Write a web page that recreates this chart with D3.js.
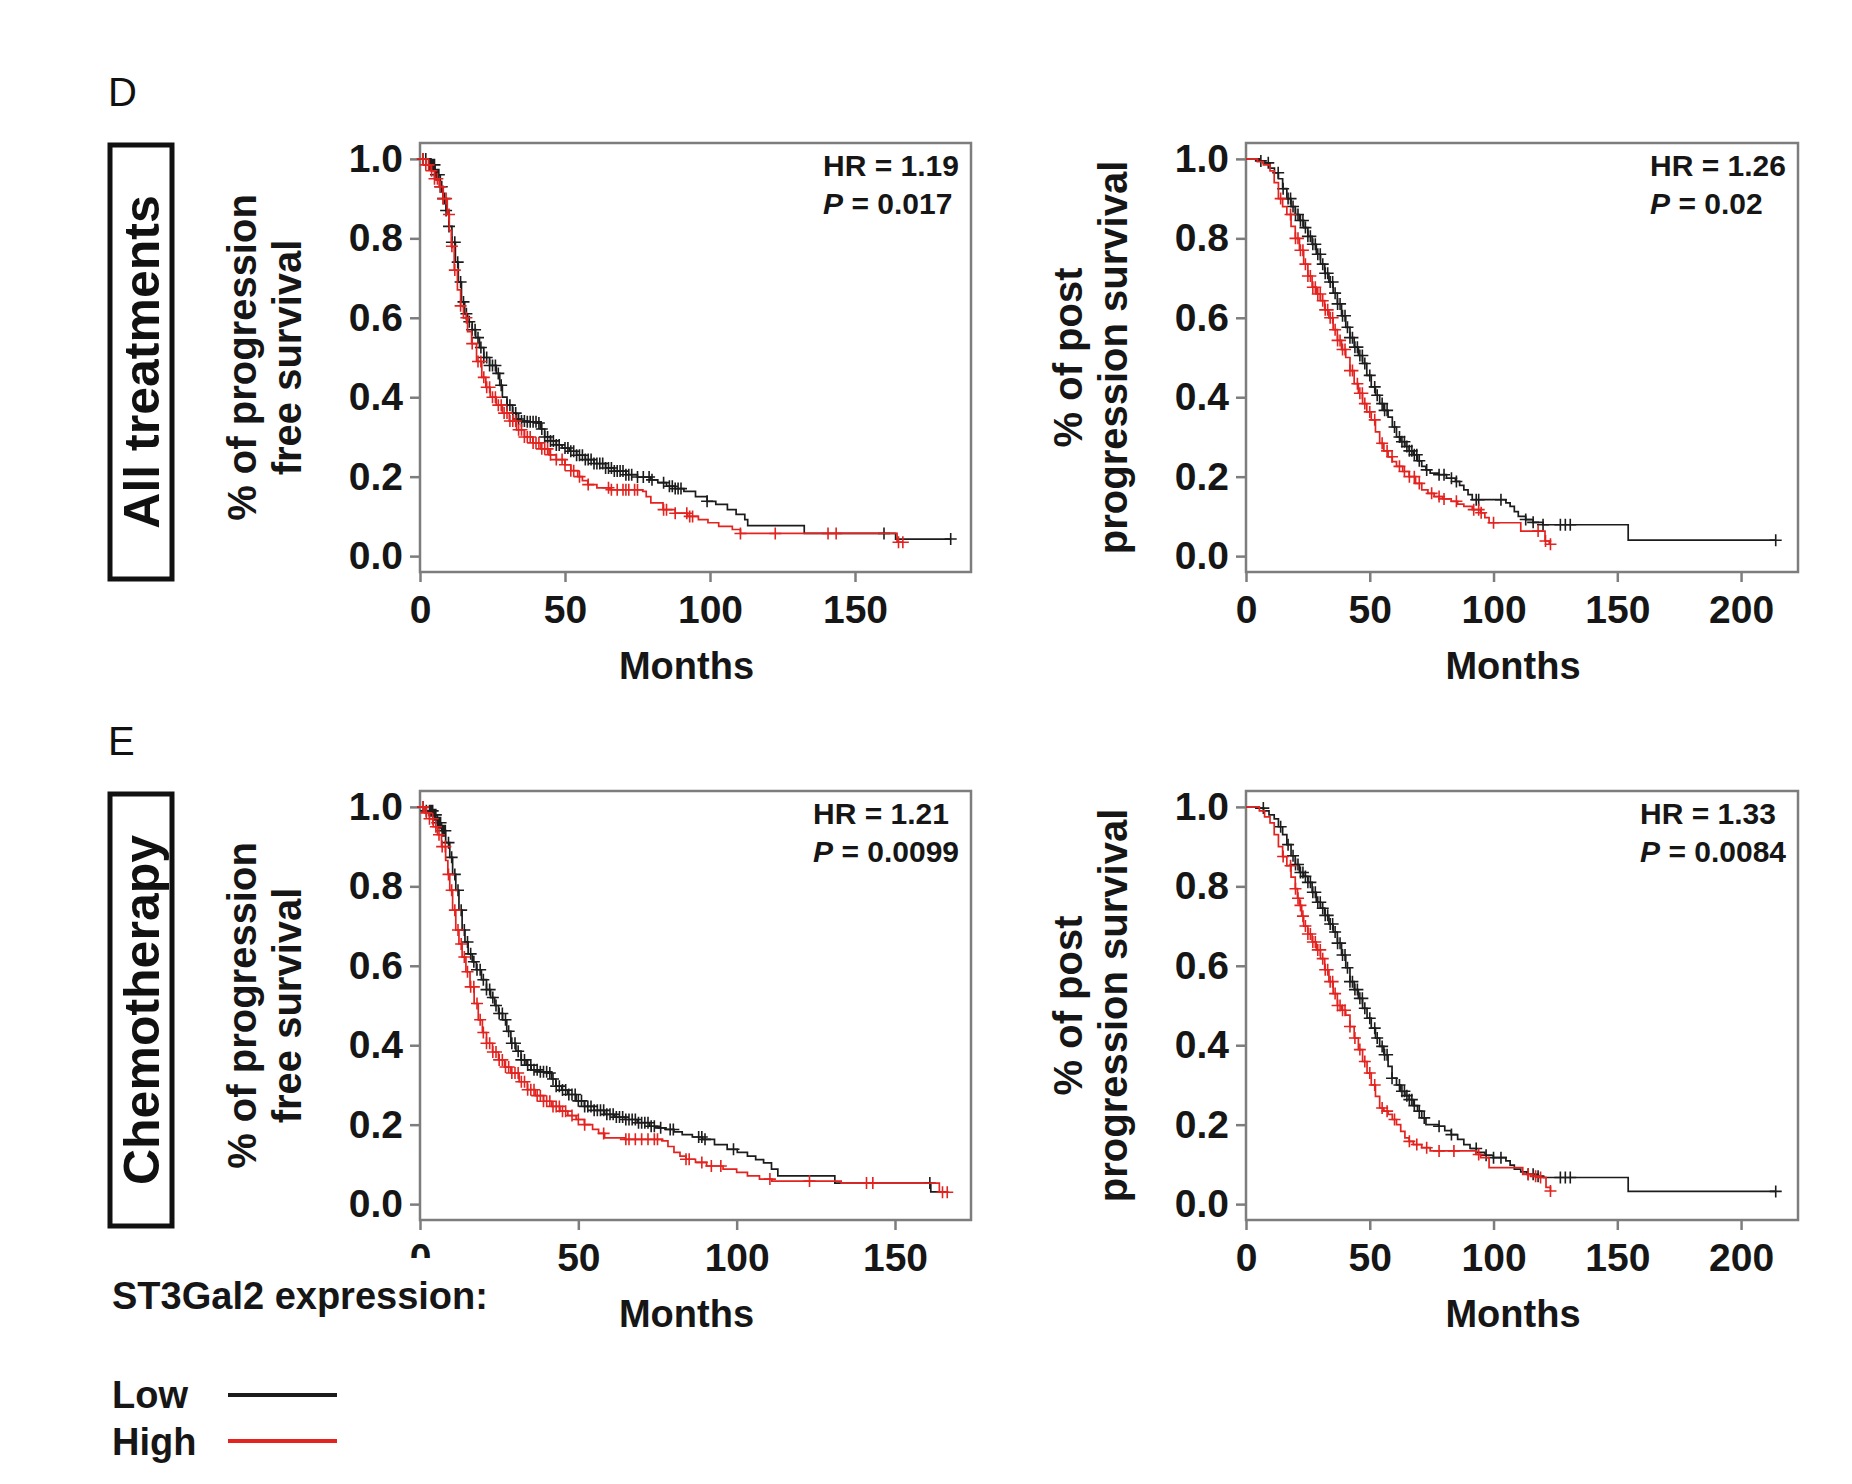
<!DOCTYPE html>
<html>
<head>
<meta charset="utf-8">
<script src="https://cdn.jsdelivr.net/npm/d3@7"></script>
<style>
  body { margin: 0; background: #fff; }
  text { font-family: "Liberation Sans", Arial, sans-serif; }
</style>
</head>
<body>
<svg class="figure" width="1852" height="1484"></svg>
<script>
// ---- data (months, survival fraction) ----
const yTicks = [0, 0.2, 0.4, 0.6, 0.8, 1.0];
const xTicksPFS = [0, 50, 100, 150];
const xTicksPPS = [0, 50, 100, 150, 200];
const xMaxes = [190, 223, 174, 223];
const hrValues = ["1.19", "1.26", "1.21", "1.33"];
const pValues = ["0.017", "0.02", "0.0099", "0.0084"];
const rowLabels = ["All treatments", "Chemotherapy"];
const panelLetters = ["D", "E"];
const yTitlePFS = ["% of progression", "free survival"];
const yTitlePPS = ["% of post", "progression survival"];
const legendTitle = "ST3Gal2 expression:";
const groupNames = ["Low", "High"];

// D: progression free survival, all treatments
const pfsAllLow = [[0,1],[3,0.985],[5.2,0.96],[7,0.93],[8,0.9],[9,0.87],[10,0.83],[11,0.79],[12.2,0.74],[13.2,0.69],[14.3,0.64],[15.4,0.61],[16.4,0.59],[18,0.57],[19.2,0.55],[20.5,0.525],[22,0.5],[24,0.48],[26.3,0.46],[27.5,0.43],[28.4,0.4],[30,0.38],[31.9,0.36],[33.3,0.345],[34.7,0.34],[37,0.338],[40.3,0.335],[41.5,0.32],[43,0.3],[45,0.29],[47,0.28],[49,0.272],[51.5,0.264],[54,0.254],[57,0.243],[60,0.233],[64,0.222],[67,0.214],[71,0.205],[75,0.199],[79.6,0.192],[82,0.185],[85,0.176],[88,0.17],[91,0.163],[95,0.15],[99,0.138],[102,0.13],[106,0.117],[109,0.105],[112,0.092],[113,0.077],[132.5,0.057],[164,0.043],[183,0.043]];
const pfsAllHigh = [[0,1],[2,0.985],[3.8,0.97],[5,0.95],[6.6,0.93],[8,0.9],[9.4,0.86],[10.1,0.82],[10.8,0.78],[11.8,0.72],[12.9,0.67],[14,0.63],[15,0.6],[16.4,0.565],[17.8,0.535],[19.5,0.49],[21.3,0.45],[22.7,0.425],[24.2,0.4],[26.3,0.38],[28.4,0.36],[30.8,0.34],[33.3,0.318],[36,0.3],[38.9,0.285],[41.7,0.27],[44.5,0.255],[47,0.243],[50,0.23],[52,0.215],[54.4,0.2],[56,0.19],[57.9,0.18],[61,0.172],[65.6,0.167],[76.8,0.163],[78,0.15],[79.6,0.134],[83.8,0.117],[88,0.108],[92.3,0.1],[96,0.092],[99.3,0.084],[103,0.075],[107.7,0.067],[110.5,0.057],[164.5,0.035],[166.5,0.035]];
const pfsAllLowCensor = [1,2,3,3.5,4,4.5,5,5.5,6,6.5,7,7.5,8,8.5,9,10,11,12,13,14,15,16,17,18,19,20,21,22,23,24,25,26,27,28,30,31,32,33,34,35,36,37,38,39,40,41,42,43,44,45,46,47,48,50,51,52,53,54,55,56,57,58,59,60,61,62,63,64,65,66,67,68,69,70,71,72,73,75,77,79,80,84,86,87,88,89,90,99,160,183];
const pfsAllHighCensor = [1,2,3,4,5,6,7,8,9,10,11,12,14,16,18,20,21,22,23,24,25,26,27,28,29,30,31,32,33,34,35,36,37,38,39,40,41,42,43,44,45,47,49,50,52,53,55,58,65,66,68,70,71,72,74,75,84,85,88,92,93,94,110.5,122.5,140.7,143.5,165,166.5];

// D: post progression survival, all treatments
const ppsAllLow = [[0,1],[5.4,0.995],[7.5,0.99],[9.7,0.977],[11.5,0.965],[13.1,0.95],[14.8,0.925],[16.5,0.9],[18.2,0.88],[19.9,0.86],[21.6,0.845],[23.3,0.827],[25,0.805],[26.7,0.785],[28.4,0.76],[30.1,0.735],[31.8,0.712],[33.5,0.69],[35.2,0.662],[36.9,0.635],[38.6,0.605],[40.3,0.576],[42,0.55],[43.7,0.526],[45.4,0.505],[47.1,0.485],[48.8,0.455],[50.6,0.426],[52.3,0.405],[54,0.384],[55.7,0.367],[57.4,0.35],[59.1,0.325],[60.8,0.3],[62.5,0.288],[64.2,0.276],[65.9,0.265],[67.6,0.255],[69.3,0.24],[71,0.226],[72.7,0.217],[74.4,0.209],[77.8,0.205],[81,0.196],[84.6,0.188],[86.3,0.178],[88,0.167],[89.7,0.155],[91.4,0.142],[105,0.134],[106.7,0.125],[108.4,0.112],[110,0.1],[113,0.092],[116,0.085],[120,0.079],[154.4,0.04],[214,0.04]];
const ppsAllHigh = [[0,1],[4.6,0.993],[7,0.985],[9.7,0.97],[11.4,0.94],[13.1,0.9],[14.8,0.88],[16.5,0.86],[18.2,0.83],[19.9,0.8],[21.6,0.77],[23.3,0.735],[25,0.705],[26.7,0.677],[28.4,0.66],[30.1,0.643],[31.8,0.62],[33.5,0.6],[35.2,0.57],[36.9,0.543],[38.6,0.52],[40.3,0.5],[42,0.467],[43.7,0.434],[45.4,0.41],[47.1,0.384],[48.8,0.363],[50.6,0.343],[52.3,0.313],[54,0.284],[55.7,0.265],[57.4,0.25],[59.1,0.238],[60.8,0.226],[63.3,0.213],[65.9,0.2],[68.5,0.183],[71,0.167],[73.5,0.158],[76,0.15],[79.5,0.144],[82.9,0.138],[85.5,0.131],[88,0.125],[91.4,0.117],[94.8,0.109],[96.5,0.097],[98.2,0.084],[111,0.063],[120.8,0.038],[122.5,0.03],[123,0.03]];
const ppsAllLowCensor = [6,9,13,15,17,18,19,20,21,22,23,24,25,26,27,28,29,30,31,32,33,34,35,36,37,38,39,40,41,42,43,44,45,46,47,48,50,52,53,55,56,57,60,62,63,64,65,66,67,68,69,70,73,78,80,83,85,93,94,103,113,116,120,127,129,131,214];
const ppsAllHighCensor = [14,18,20,21,22,23,24,25,26,27,28,29,30,31,32,33,34,35,36,37,38,39,40,42,43,45,46,47,48,50,52,55,57,59,62,64,66,68,70,75,78,80,85,92,94,95,100,118,121,123];

// E: progression free survival, chemotherapy
const pfsChemoLow = [[0,1],[2,0.99],[4.2,0.98],[5.5,0.96],[6.8,0.94],[8.1,0.91],[9.4,0.873],[10.3,0.83],[11.3,0.79],[12.3,0.74],[13.3,0.69],[14.2,0.66],[15.2,0.63],[16.5,0.61],[17.8,0.59],[19.4,0.565],[21,0.54],[22.3,0.52],[23.6,0.5],[24.8,0.48],[26.1,0.464],[27.4,0.435],[28.7,0.405],[30.3,0.385],[31.9,0.363],[33.5,0.35],[35.1,0.338],[37.7,0.333],[40.3,0.33],[41.6,0.315],[42.9,0.297],[44.8,0.287],[46.7,0.276],[49.3,0.26],[51.9,0.246],[55,0.236],[58.3,0.226],[61.5,0.219],[64.8,0.213],[68.6,0.205],[72.5,0.196],[75,0.192],[77.6,0.188],[80.2,0.182],[82.8,0.175],[86,0.169],[89.2,0.163],[93,0.15],[97,0.138],[100.2,0.13],[103.4,0.121],[106,0.112],[108.5,0.104],[111,0.088],[113,0.071],[131,0.053],[161.3,0.031],[166.5,0.031]];
const pfsChemoHigh = [[0,1],[1.5,0.985],[3,0.97],[4.2,0.95],[5.5,0.93],[6.8,0.9],[8.1,0.865],[8.8,0.83],[9.4,0.79],[10.3,0.74],[11.3,0.69],[12.3,0.655],[13.3,0.622],[14.5,0.585],[15.8,0.547],[17.1,0.505],[18.4,0.464],[19.7,0.432],[21,0.405],[22.9,0.383],[24.8,0.363],[26.7,0.345],[28.7,0.33],[31.3,0.308],[33.9,0.288],[36.4,0.273],[39,0.259],[41.6,0.246],[44.2,0.234],[46.7,0.223],[49.3,0.213],[51.9,0.2],[54.5,0.188],[56.4,0.178],[58.3,0.167],[64.8,0.163],[76.4,0.159],[78.3,0.145],[80.2,0.13],[82.1,0.121],[84,0.113],[87,0.105],[90.5,0.096],[95.7,0.088],[100,0.08],[103.4,0.071],[107.2,0.063],[111.1,0.058],[133,0.053],[164,0.03],[167,0.03]];
const pfsChemoLowCensor = [1,2,3,3.5,4,4.5,5,5.5,6,6.5,7,7.5,8,9,10,11,12,13,14,15,16,17,18,19,20,21,22,23,24,25,26,27,28,29,30,31,32,33,34,35,36,37,38,39,40,41,42,43,44,45,46,47,48,49,50,51,52,53,54,55,56,57,58,59,60,61,62,63,64,65,66,67,68,69,70,71,72,73,74,76,79,80,88,89,90,99,161];
const pfsChemoHighCensor = [1,2,3,4,5,6,7,8,9,10,11,12,13,14,15,16,17,18,19,20,21,22,23,24,25,26,27,28,29,30,31,32,33,34,35,36,37,38,39,40,41,42,43,44,45,46,48,50,52,58,65,66,68,70,72,74,75,84,85,89,92,95,110.5,123,141,143,165,166.5];

// E: post progression survival, chemotherapy
const ppsChemoLow = [[0,1],[4,0.997],[7.1,0.99],[9.3,0.98],[11.4,0.97],[13.1,0.95],[14.8,0.93],[16.5,0.905],[18.2,0.877],[19.9,0.855],[21.6,0.835],[23.3,0.825],[25,0.81],[26.7,0.785],[28.4,0.76],[30.1,0.745],[31.8,0.727],[33.5,0.705],[35.2,0.685],[36.9,0.657],[38.6,0.627],[40.3,0.595],[42,0.56],[43.7,0.54],[45.4,0.518],[47.1,0.493],[48.9,0.468],[50.6,0.443],[52.3,0.418],[54,0.397],[55.7,0.376],[57.4,0.347],[59,0.317],[60.8,0.3],[62.5,0.284],[64.2,0.273],[65.9,0.263],[67.6,0.248],[69.3,0.234],[71,0.217],[72.7,0.2],[77.8,0.196],[80.3,0.185],[82.9,0.175],[85.5,0.163],[88,0.15],[90.5,0.14],[93.1,0.13],[96.5,0.123],[99.9,0.117],[105,0.109],[106.7,0.098],[108.4,0.088],[111,0.081],[113.5,0.075],[117,0.07],[120.3,0.067],[154.4,0.032],[214,0.032]];
const ppsChemoHigh = [[0,1],[5.4,0.99],[7.5,0.975],[9.7,0.96],[11.4,0.93],[13.1,0.9],[14.8,0.875],[16.5,0.852],[18.2,0.823],[19.9,0.794],[20.8,0.77],[21.6,0.752],[22.5,0.725],[23.3,0.7],[25,0.68],[26.7,0.66],[28.4,0.64],[30.1,0.618],[31.8,0.59],[33.5,0.56],[35.2,0.53],[36.9,0.5],[38.6,0.488],[40.3,0.476],[42,0.447],[43.7,0.418],[45.4,0.389],[47.1,0.359],[48.9,0.33],[50.6,0.3],[52.3,0.271],[54,0.242],[55.7,0.234],[57.4,0.226],[59.1,0.213],[60.8,0.2],[62.5,0.183],[64.2,0.167],[65.9,0.158],[67.6,0.15],[71,0.142],[74.4,0.134],[93,0.125],[94.8,0.117],[98.2,0.092],[111.8,0.075],[115,0.07],[118.6,0.067],[121.2,0.042],[123,0.033]];
const ppsChemoLowCensor = [7,14,17,19,20,21,22,23,24,25,26,27,28,29,30,31,32,33,34,35,36,37,38,39,40,41,42,43,44,45,46,47,48,50,52,53,55,56,57,59,62,63,64,65,66,67,68,70,72,78,83,93,97,100,103,114,116,118,127,129,131,214];
const ppsChemoHighCensor = [15,18,20,21,22,23,24,25,26,27,28,29,30,31,32,33,34,35,36,37,38,39,40,42,44,46,48,50,52,55,57,60,66,69,73,78,84,94,114,117,119,123];

// ---- layout ----
const svg = d3.select(".figure");
const lowColor = "#1c1c1c";
const highColor = "#e3231f";
const frameColor = "#7d7d7d";

const panels = [
    { left: 420, right: 971, top: 143, bottom: 572, xTicks: xTicksPFS, yTitle: yTitlePFS,
      low: pfsAllLow, high: pfsAllHigh, lowCensor: pfsAllLowCensor, highCensor: pfsAllHighCensor },
    { left: 1246, right: 1798, top: 143, bottom: 572, xTicks: xTicksPPS, yTitle: yTitlePPS,
      low: ppsAllLow, high: ppsAllHigh, lowCensor: ppsAllLowCensor, highCensor: ppsAllHighCensor },
    { left: 420, right: 971, top: 791, bottom: 1220, xTicks: xTicksPFS, yTitle: yTitlePFS,
      low: pfsChemoLow, high: pfsChemoHigh, lowCensor: pfsChemoLowCensor, highCensor: pfsChemoHighCensor },
    { left: 1246, right: 1798, top: 791, bottom: 1220, xTicks: xTicksPPS, yTitle: yTitlePPS,
      low: ppsChemoLow, high: ppsChemoHigh, lowCensor: ppsChemoLowCensor, highCensor: ppsChemoHighCensor }
];

// the legend block was pasted over the figure and hides the lower half of one tick label
const legendCut = { x: 60, y: 1258, w: 470, h: 226 };
svg.append("defs").append("clipPath")
    .attr("id", "outsideLegend")
    .append("path")
    .attr("clip-rule", "evenodd")
    .attr("d", `M0,0H1852V1484H0Z M${legendCut.x},${legendCut.y}h${legendCut.w}v${legendCut.h}h${-legendCut.w}Z`);

// survival value of a step curve at time t
function survivalAt(curve, t) {
    const i = d3.bisector(d => d[0]).right(curve, t) - 1;
    return curve[Math.max(0, i)][1];
}

function drawPanel(p, i) {
    const x = d3.scaleLinear().domain([0, xMaxes[i]]).range([p.left, p.right]);
    const y = d3.scaleLinear().domain([-0.04, 1.04]).range([p.bottom, p.top]);
    const g = svg.append("g");

    // frame
    g.append("rect")
        .attr("x", p.left).attr("y", p.top)
        .attr("width", p.right - p.left).attr("height", p.bottom - p.top)
        .attr("fill", "#fff").attr("stroke", frameColor).attr("stroke-width", 2.5);

    const yAxis = g.append("g")
        .attr("transform", `translate(${p.left},0)`)
        .call(d3.axisLeft(y).tickValues(yTicks).tickFormat(d3.format(".1f")).tickSize(10).tickPadding(7));
    const xAxis = g.append("g")
        .attr("clip-path", "url(#outsideLegend)")
        .append("g")
        .attr("transform", `translate(0,${p.bottom})`)
        .call(d3.axisBottom(x).tickValues(p.xTicks).tickFormat(d3.format("d")).tickSize(10).tickPadding(13));
    [yAxis, xAxis].forEach(a => {
        a.select(".domain").remove();
        a.selectAll(".tick line").attr("stroke", frameColor).attr("stroke-width", 2.5);
        a.selectAll(".tick text")
            .attr("fill", "#161616")
            .style("font-size", "39px")
            .style("font-weight", "bold");
    });

    // axis titles
    g.append("text")
        .attr("x", (p.left + p.right) / 2 - 9)
        .attr("y", p.bottom + 107)
        .attr("text-anchor", "middle")
        .style("font-size", "38px").style("font-weight", "bold").attr("fill", "#161616")
        .text("Months");

    const cy = (p.top + p.bottom) / 2;
    p.yTitle.forEach((line, k) => {
        const cx = p.left - 178 + k * 45;
        g.append("text")
            .attr("transform", `translate(${cx},${cy}) rotate(-90)`)
            .attr("dy", "0.36em")
            .attr("text-anchor", "middle")
            .style("font-size", "40px").style("font-weight", "bold").attr("fill", "#161616")
            .text(line);
    });

    // curves
    const line = d3.line().x(d => x(d[0])).y(d => y(d[1])).curve(d3.curveStepAfter);
    const series = [
        { curve: p.low, censor: p.lowCensor, color: lowColor },
        { curve: p.high, censor: p.highCensor, color: highColor }
    ];
    series.forEach(s => {
        g.append("path")
            .attr("d", line(s.curve))
            .attr("fill", "none")
            .attr("stroke", s.color)
            .attr("stroke-width", 1.7);
        g.append("path")
            .attr("d", s.censor.map(t => {
                const cx0 = x(t), cy0 = y(survivalAt(s.curve, t));
                return `M${cx0 - 6},${cy0}h12M${cx0},${cy0 - 6}v12`;
            }).join(""))
            .attr("fill", "none")
            .attr("stroke", s.color)
            .attr("stroke-width", 1.6);
    });

    // HR / P annotation
    const ann = g.append("g").style("font-size", "30px").style("font-weight", "bold").attr("fill", "#161616");
    const t1 = ann.append("text").attr("y", p.top + 33).text(`HR = ${hrValues[i]}`);
    const t2 = ann.append("text").attr("y", p.top + 71);
    t2.append("tspan").style("font-style", "italic").text("P");
    t2.append("tspan").text(` = ${pValues[i]}`);
    const w = Math.max(t1.node().getComputedTextLength(), t2.node().getComputedTextLength());
    ann.selectAll("text").attr("x", p.right - 12 - w);
}

panels.forEach(drawPanel);

// row boxes and panel letters
const rows = [{ top: 145, bottom: 579 }, { top: 794, bottom: 1226 }];
rows.forEach((r, k) => {
    svg.append("rect")
        .attr("x", 110).attr("y", r.top)
        .attr("width", 62).attr("height", r.bottom - r.top)
        .attr("fill", "none").attr("stroke", "#111").attr("stroke-width", 5);
    svg.append("text")
        .attr("transform", `translate(141,${(r.top + r.bottom) / 2}) rotate(-90)`)
        .attr("dy", "0.36em")
        .attr("text-anchor", "middle")
        .style("font-size", "50px").style("font-weight", "bold").attr("fill", "#111")
        .text(rowLabels[k]);
    svg.append("text")
        .attr("x", 108).attr("y", r.top - 39)
        .style("font-size", "40px").attr("fill", "#111")
        .text(panelLetters[k]);
});

// legend
svg.append("text")
    .attr("x", 112).attr("y", 1309)
    .style("font-size", "38px").style("font-weight", "bold").attr("fill", "#161616")
    .text(legendTitle);
[lowColor, highColor].forEach((c, k) => {
    svg.append("text")
        .attr("x", 112).attr("y", 1408 + k * 47)
        .style("font-size", "38px").style("font-weight", "bold").attr("fill", "#161616")
        .text(groupNames[k]);
    svg.append("line")
        .attr("x1", 228).attr("x2", 337)
        .attr("y1", 1395 + k * 46).attr("y2", 1395 + k * 46)
        .attr("stroke", c).attr("stroke-width", 4);
});
</script>
</body>
</html>
